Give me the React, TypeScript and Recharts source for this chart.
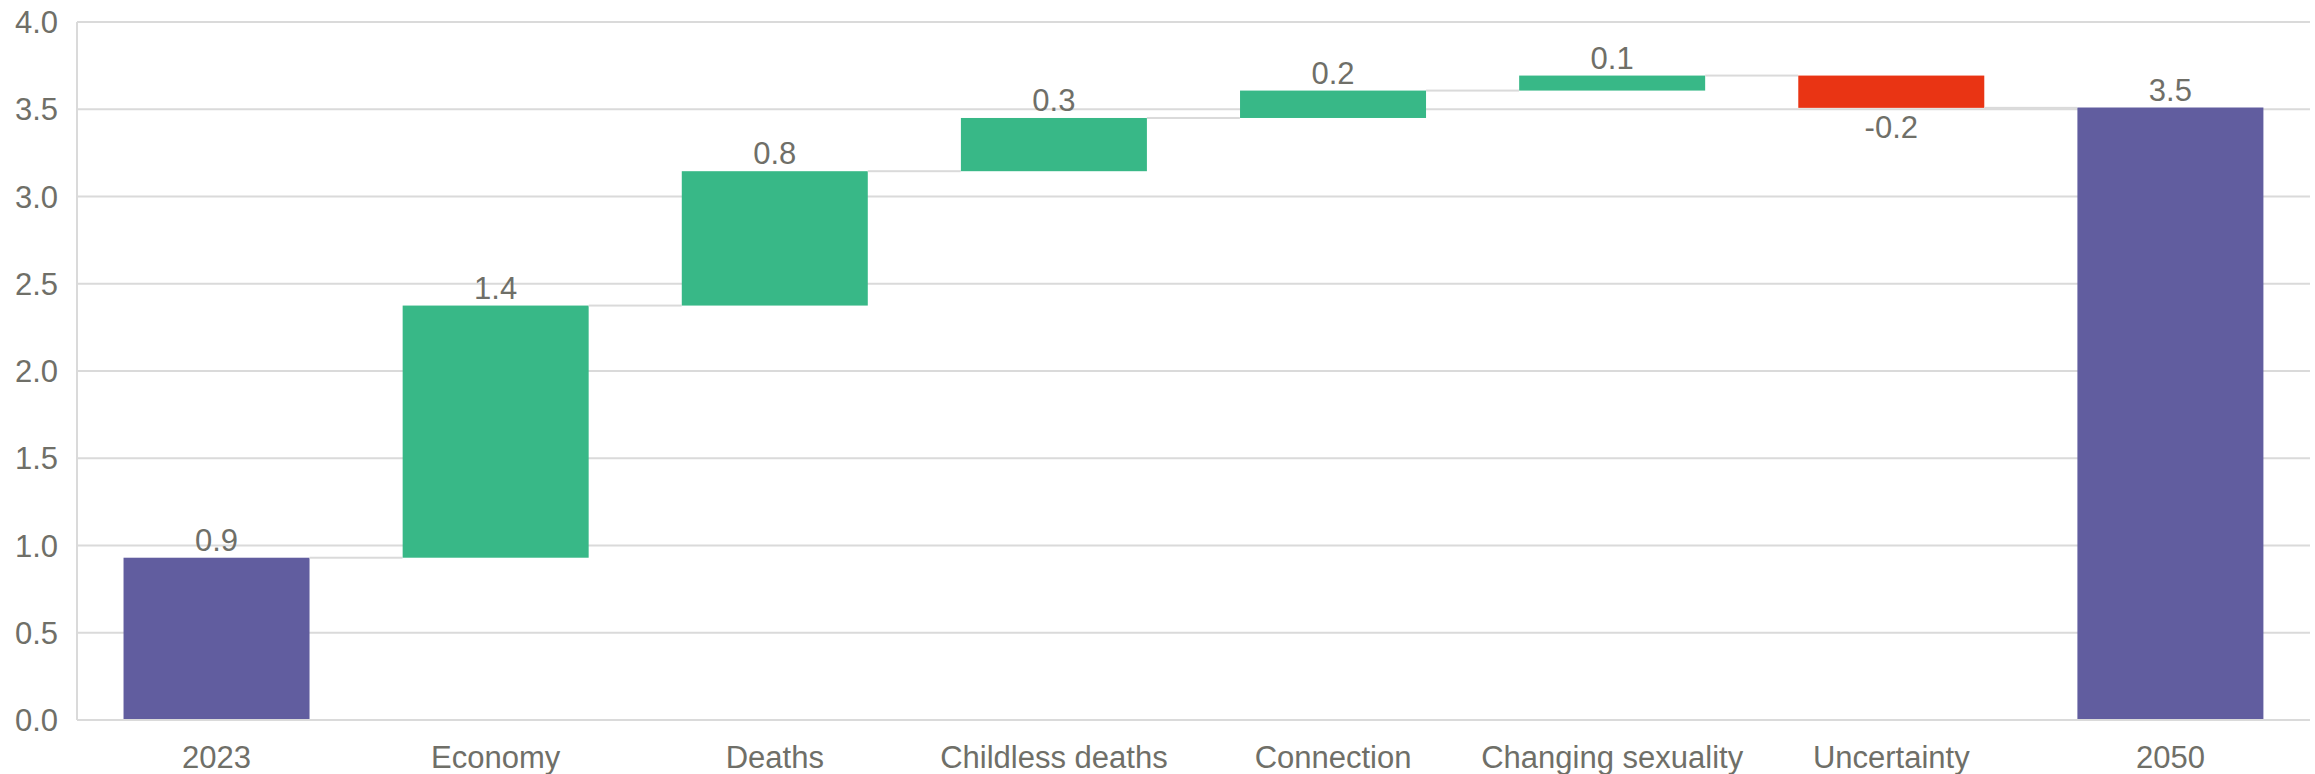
import { BarChart, Bar, XAxis, YAxis, CartesianGrid, Cell } from 'recharts';

const categories = [
  '2023', 'Economy', 'Deaths', 'Childless deaths',
  'Connection', 'Changing sexuality', 'Uncertainty', '2050',
];
const startTotal = 0.93;
const changes = [1.445, 0.77, 0.305, 0.157, 0.086, -0.185];
const endTotal = 3.51;
const yTicks = [0, 0.5, 1, 1.5, 2, 2.5, 3, 3.5, 4];

const COLORS = { total: '#615d9f', up: '#38b887', down: '#e93414' };
const TEXT = '#6f6f68';
const GRID = '#dadada';
const FONT = '"Liberation Sans", Arial, sans-serif';

type Kind = 'total' | 'up' | 'down';
interface Row { name: string; range: [number, number]; value: number; kind: Kind; last: boolean; }

// build the floating [low, high] ranges for each step of the waterfall
const rows: Row[] = (() => {
  const out: Row[] = [{ name: categories[0], range: [0, startTotal], value: startTotal, kind: 'total', last: false }];
  let run = startTotal;
  changes.forEach((d, i) => {
    const next = run + d;
    out.push({
      name: categories[i + 1],
      range: [Math.min(run, next), Math.max(run, next)],
      value: d,
      kind: d >= 0 ? 'up' : 'down',
      last: false,
    });
    run = next;
  });
  out.push({ name: categories[categories.length - 1], range: [0, endTotal], value: endTotal, kind: 'total', last: true });
  return out;
})();

// bar + connector to the next bar + value label
const StepShape = (props: any) => {
  const { x, y, width, height, payload } = props;
  const top = Math.min(y, y + height);
  const h = Math.abs(height);
  const bottom = top + h;
  const row: Row = payload;
  const level = row.kind === 'down' ? bottom : top;
  const gap = width * 0.5;
  return (
    <g>
      <rect x={x} y={top} width={width} height={h} fill={COLORS[row.kind]} />
      {!row.last && (
        <rect x={x + width} y={level - 1} width={gap} height={2} fill={GRID} />
      )}
      <text
        x={x + width / 2}
        y={row.kind === 'down' ? bottom + 30 : top - 7}
        textAnchor="middle"
        fill={TEXT}
        fontSize={31}
        fontFamily={FONT}
      >
        {row.value.toFixed(1)}
      </text>
    </g>
  );
};

export default function App() {
  return (
    <div style={{ position: 'absolute', left: 0, top: 0, background: '#fff' }}>
      <BarChart
        width={2315}
        height={774}
        data={rows}
        margin={{ top: 22, right: 5, bottom: 24, left: 0 }}
        barCategoryGap="16.67%"
        style={{ fontFamily: FONT }}
      >
        <CartesianGrid vertical={false} stroke={GRID} strokeWidth={2} />
        <XAxis
          dataKey="name"
          height={30}
          tickSize={0}
          tickMargin={26}
          axisLine={{ stroke: GRID, strokeWidth: 2 }}
          tickLine={false}
          tick={{ fill: TEXT, fontSize: 31, fontFamily: FONT }}
          interval={0}
        />
        <YAxis
          width={77}
          domain={[0, 4]}
          ticks={yTicks}
          tickSize={0}
          tickMargin={19}
          tickFormatter={(v: number) => v.toFixed(1)}
          axisLine={{ stroke: GRID, strokeWidth: 2 }}
          tickLine={false}
          tick={{ fill: TEXT, fontSize: 31, fontFamily: FONT }}
        />
        <Bar dataKey="range" shape={StepShape} isAnimationActive={false}>
          {rows.map((r) => (
            <Cell key={r.name} fill={COLORS[r.kind]} />
          ))}
        </Bar>
      </BarChart>
    </div>
  );
}
